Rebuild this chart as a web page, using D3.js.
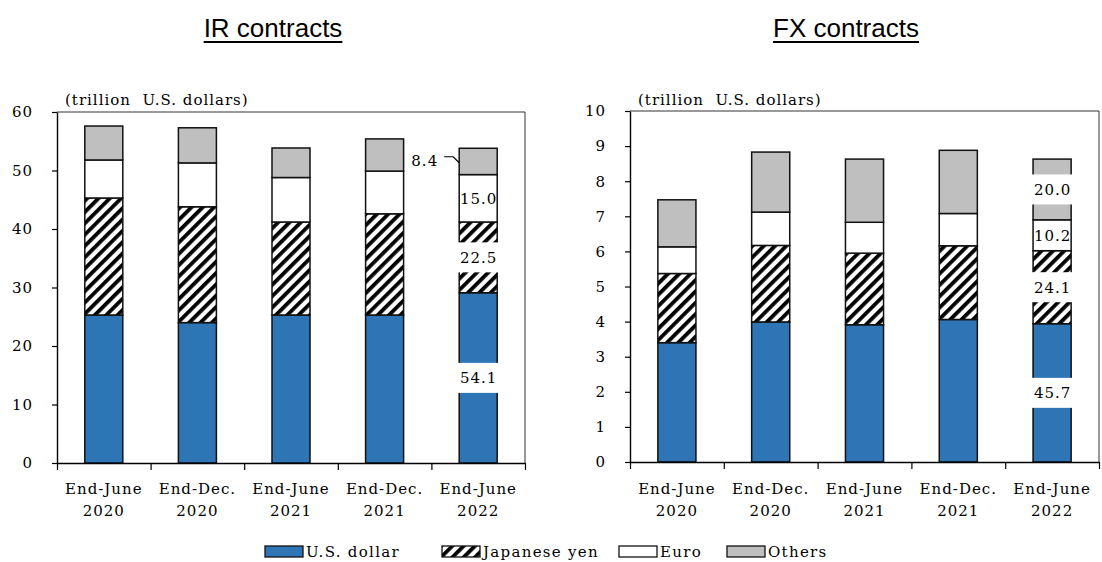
<!DOCTYPE html>
<html><head><meta charset="utf-8">
<script src="https://cdn.jsdelivr.net/npm/d3@7"></script>
<style>
body{margin:0;background:#fff}
svg{display:block}
.serif{font-family:"DejaVu Serif","Liberation Serif",serif;font-size:15px;letter-spacing:1px;fill:#000}
</style>
</head><body>
<svg id="c" width="1102" height="562"></svg>
<script>
// ---------------- data ----------------
const catLine1 = ["End-June","End-Dec.","End-June","End-Dec.","End-June"];
const catLine2 = ["2020","2020","2021","2021","2022"];
const seriesNames = ["U.S. dollar","Japanese yen","Euro","Others"];

const irUSD    = [25.3, 24.0, 25.3, 25.3, 29.1];
const irYen    = [20.0, 19.8, 15.9, 17.3, 12.1];
const irEuro   = [6.5, 7.5, 7.6, 7.3, 8.1];
const irOthers = [5.8, 6.0, 5.05, 5.5, 4.5];

const fxUSD    = [3.40, 3.99, 3.91, 4.06, 3.94];
const fxYen    = [1.97, 2.18, 2.04, 2.10, 2.08];
const fxEuro   = [0.76, 0.95, 0.88, 0.92, 0.88];
const fxOthers = [1.34, 1.71, 1.80, 1.80, 1.73];

const irTicks = [0,10,20,30,40,50,60];
const fxTicks = [0,1,2,3,4,5,6,7,8,9,10];

const irShareLabels = ["54.1","22.5","15.0","8.4"];
const fxShareLabels = ["45.7","24.1","10.2","20.0"];
const unitLabel = "(trillion  U.S. dollars)";

// ---------------- drawing ----------------
const svg = d3.select("#c");
const defs = svg.append("defs");
const pat = defs.append("pattern").attr("id","hatch")
  .attr("patternUnits","userSpaceOnUse").attr("width",8).attr("height",8)
  .attr("patternTransform","rotate(45)");
pat.append("rect").attr("width",8).attr("height",8).attr("fill","#fff");
pat.append("rect").attr("width",3.8).attr("height",8).attr("fill","#000");

const fills = ["#2E75B6","url(#hatch)","#ffffff","#BFBFBF"];

function drawPanel(cfg){
  const g = svg.append("g");
  const rows = catLine1.map((c,i)=>{
    const r = {cat:i};
    seriesNames.forEach((s,k)=> r[s] = cfg.series[k][i]);
    return r;
  });
  const stack = d3.stack().keys(seriesNames)(rows);

  const x = d3.scaleBand().domain(d3.range(catLine1.length))
    .range([cfg.x0, cfg.x1]).paddingInner(0.594).paddingOuter(0.297);
  const y = d3.scaleLinear().domain([0, cfg.max]).range([cfg.yb, cfg.yt]);
  const xb = d3.scaleLinear().domain([0, catLine1.length]).range([cfg.x0, cfg.x1]);
  const bw = x.bandwidth();

  // frame (top & right)
  g.append("path")
    .attr("d", `M${cfg.x0},${y(cfg.max)}H${cfg.x1}V${y(0)}`)
    .attr("fill","none").attr("stroke","#333").attr("stroke-width",1);

  // bars
  stack.forEach((layer,k)=>{
    g.append("g").selectAll("rect").data(layer).join("rect")
      .attr("x", d=>x(d.data.cat))
      .attr("y", d=>y(d[1]))
      .attr("width", bw)
      .attr("height", d=>y(d[0])-y(d[1]))
      .attr("fill", fills[k])
      .attr("stroke","#111").attr("stroke-width",1.5);
  });

  // y axis
  const ya = g.append("g").attr("transform",`translate(${cfg.x0},0)`)
    .call(d3.axisLeft(y).tickValues(cfg.ticks).tickSize(5).tickSizeOuter(0).tickPadding(19));
  ya.select(".domain").attr("stroke","#000").attr("stroke-width",1.4);
  ya.selectAll(".tick line").attr("stroke","#000").attr("stroke-width",1.2);
  ya.selectAll(".tick text").attr("class","serif").attr("font-family",null).attr("font-size",null);

  // x axis
  const xa = g.append("g").attr("transform",`translate(0,${y(0)})`)
    .call(d3.axisBottom(xb).ticks(catLine1.length).tickFormat("").tickSize(7).tickSizeOuter(0));
  xa.select(".domain").attr("stroke","#000").attr("stroke-width",1.4);
  xa.selectAll(".tick line").attr("stroke","#000").attr("stroke-width",1.2);

  // category labels
  g.append("g").selectAll("text").data(catLine1).join("text")
    .attr("class","serif").attr("text-anchor","middle")
    .attr("x",(d,i)=>x(i)+bw/2).attr("y",494).text(d=>d);
  g.append("g").selectAll("text").data(catLine2).join("text")
    .attr("class","serif").attr("text-anchor","middle")
    .attr("x",(d,i)=>x(i)+bw/2).attr("y",516).text(d=>d);

  // unit label
  g.append("text").attr("class","serif").style("white-space","pre")
    .attr("x",cfg.x0+8).attr("y",105).text(unitLabel);

  // title
  const t = g.append("text").attr("x",cfg.titleX).attr("y",37)
    .attr("text-anchor","middle").attr("font-family","'Liberation Sans',Arial,sans-serif")
    .attr("font-size",26).attr("fill","#000").text(cfg.title);
  const bb = t.node().getBBox();
  g.append("rect").attr("x",bb.x).attr("y",41).attr("width",bb.width).attr("height",2).attr("fill","#000");

  // share labels on last bar
  const last = catLine1.length-1;
  const bx = x(last);
  stack.forEach((layer,k)=>{
    const d = layer[last];
    const my = y((d[0]+d[1])/2);
    const mode = cfg.modes[k];
    const txt = cfg.labels[k];
    if(mode==="box"){
      g.append("rect").attr("x",bx-2).attr("y",my-15).attr("width",bw+4).attr("height",30).attr("fill","#fff");
      g.append("text").attr("class","serif").attr("text-anchor","middle")
        .attr("x",bx+bw/2+0.5).attr("y",my).attr("dy","0.36em").text(txt);
    } else if(mode==="plain"){
      g.append("text").attr("class","serif").attr("text-anchor","middle")
        .attr("x",bx+bw/2+0.5).attr("y",my).attr("dy","0.36em").text(txt);
    } else if(mode==="leader"){
      g.append("text").attr("class","serif").attr("text-anchor","end")
        .attr("x",bx-21).attr("y",my-1).attr("dy","0.36em").text(txt);
      g.append("path").attr("d",`M${bx-15},${my-4.7}H${bx-6}L${bx},${my+1.3}`)
        .attr("fill","none").attr("stroke","#000").attr("stroke-width",1.2);
    }
  });
}

drawPanel({x0:57, x1:525, yt:112, yb:463, max:60, ticks:irTicks,
  series:[irUSD, irYen, irEuro, irOthers], title:"IR contracts", titleX:273,
  labels:irShareLabels, modes:["box","box","plain","leader"]});
drawPanel({x0:630, x1:1099, yt:111, yb:462, max:10, ticks:fxTicks,
  series:[fxUSD, fxYen, fxEuro, fxOthers], title:"FX contracts", titleX:846,
  labels:fxShareLabels, modes:["box","box","plain","box"]});

// legend
const legX = [265, 442, 619, 727];
const lg = svg.append("g");
seriesNames.forEach((s,k)=>{
  lg.append("rect").attr("x",legX[k]).attr("y",546).attr("width",38).attr("height",11)
    .attr("fill",fills[k]).attr("stroke","#111").attr("stroke-width",1.3);
  lg.append("text").attr("class","serif").style("letter-spacing","1.3px")
    .attr("x",legX[k]+41).attr("y",557).text(s);
});
</script>
</body></html>
